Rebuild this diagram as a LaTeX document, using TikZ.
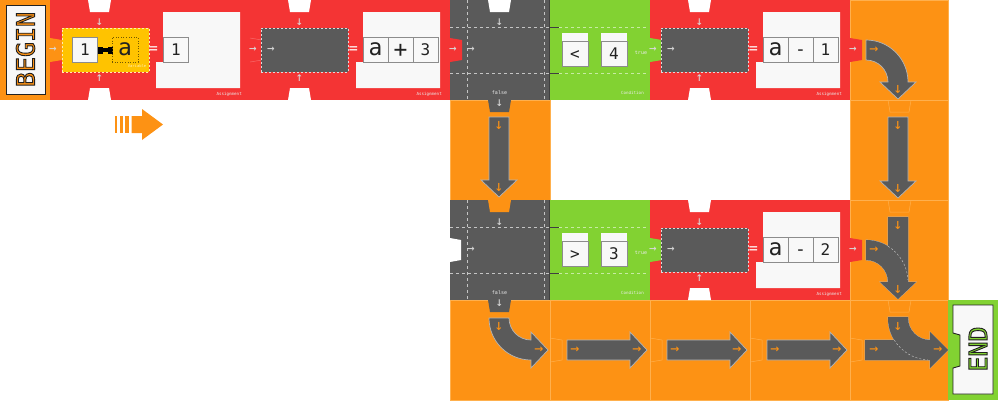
\documentclass[tikz,border=0pt]{standalone}
\usepackage{fontspec}
\setmainfont{DejaVu Sans Mono}
\definecolor{tred}{HTML}{F43434}
\definecolor{torange}{HTML}{FD9214}
\definecolor{tgreen}{HTML}{82D232}
\definecolor{tgray}{HTML}{5A5A5A}
\definecolor{tyellow}{HTML}{FFC300}
\definecolor{twhite}{HTML}{F8F8F8}
\definecolor{tline}{HTML}{FFB04D}
\definecolor{rline}{HTML}{F86B6B}
\definecolor{tdark}{HTML}{222222}
\newcommand{\outl}[1]{\special{pdf:literal direct 2 Tr 0.9 w 0.12 0.12 0.12 RG}#1\special{pdf:literal direct 0 Tr}}
\newcommand{\htabfill}[3]{\fill[#3] (#1,#2+38) -- (#1+12,#2+40) -- (#1+12,#2+60) -- (#1,#2+62) -- cycle;}
\newcommand{\htabline}[3]{\draw[#3,line width=0.5pt] (#1,#2+38) -- (#1+12,#2+40) -- (#1+12,#2+60) -- (#1,#2+62);}
\newcommand{\vtabfill}[3]{\fill[#3] (#1+38,#2) -- (#1+40,#2+12) -- (#1+59,#2+12) -- (#1+61,#2) -- cycle;}
\newcommand{\vtabline}[3]{\draw[#3,line width=0.5pt] (#1+38,#2) -- (#1+40,#2+12) -- (#1+59,#2+12) -- (#1+61,#2);}
\newcommand{\topnotch}[2]{\fill[white] (#1+38,#2) -- (#1+61,#2) -- (#1+59,#2+12) -- (#1+40,#2+12) -- cycle;}
\newcommand{\botnotch}[2]{\fill[white] (#1+38,#2+100) -- (#1+61,#2+100) -- (#1+59,#2+88) -- (#1+40,#2+88) -- cycle;}
% assignment tile frame: #1 prefix, #2 X, #3 Y
\newcommand{\asgframe}[3]{%
  \fill[twhite] (#2+113,#3+12) -- (#2+190,#3+12) -- (#2+190,#3+88) -- (#2+106,#3+88) -- (#2+106,#3+62) -- (#2+113,#3+62) -- cycle;
  \node[warr] (#1lt) at (#2+3,#3+50) {→};
  \node[warr] (#1dn) at (#2+49.5,#3+22) {↓};
  \node[warr] (#1up) at (#2+49.5,#3+78) {↑};
  \node[eqsign] (#1eq) at (#2+103.5,#3+50) {=};
  \node[tiny,anchor=east] (#1lbl) at (#2+192,#3+94.5) {Assignment};
}
% expression: #1 prefix #2 X #3 Y #4 #5 #6 cells, #7 style of middle cell
\newcommand{\asgexpr}[7]{%
  \node[inbox] (#1in) at (#2+54.5,#3+50) {};
  \node[warr] (#1inar) at (#2+21,#3+50) {→};
  \node[cell,bigc] (#1c1) at (#2+125.5,#3+49.5) {#4};
  \node[cell,#7] (#1c2) at (#2+150.5,#3+49.5) {#5};
  \node[cell] (#1c3) at (#2+175.5,#3+49.5) {#6};
}
% condition tile: #1 prefix #2 X #3 Y #4 op #5 value
\newcommand{\condtile}[5]{%
  \draw[dkline] (#2,#3+27) -- (#2+9,#3+27);
  \draw[dkline] (#2,#3+73) -- (#2+9,#3+73);
  \draw[gdash] (#2+9,#3+27) -- (#2+98,#3+27);
  \draw[gdash] (#2+9,#3+73) -- (#2+98,#3+73);
  \fill[twhite] (#2+12,#3+33) rectangle (#2+38,#3+41);
  \fill[twhite] (#2+51,#3+33) rectangle (#2+77,#3+41);
  \node[ccell] (#1op) at (#2+25,#3+53.5) {#4};
  \node[ccell] (#1val) at (#2+64,#3+53.5) {#5};
  \node[tiny,font=\fontsize{5}{5}\selectfont] (#1true) at (#2+91,#3+52.5) {true};
  \node[tiny,anchor=east] (#1lbl) at (#2+94,#3+92.5) {Condition};
}
% branch tile: #1 prefix #2 X #3 Y
\newcommand{\branchtile}[3]{%
  \draw[bdash] (#2+17,#3) -- (#2+17,#3+100);
  \draw[bdash] (#2+94,#3) -- (#2+94,#3+100);
  \draw[bdash] (#2,#3+27) -- (#2+99,#3+27);
  \draw[bdash] (#2,#3+73) -- (#2+99,#3+73);
  \draw[dkline] (#2+99.5,#3) -- (#2+99.5,#3+100);
  \node[warr] (#1dn) at (#2+49.5,#3+22) {↓};
  \node[warr] (#1rt) at (#2+21,#3+50) {→};
  \node[tiny,font=\fontsize{5}{5}\selectfont] (#1f) at (#2+49.5,#3+92.5) {false};
  \node[warr] (#1out) at (#2+49.5,#3+103.5) {↓};
}
\begin{document}
\begin{tikzpicture}[x=1pt,y=-1pt,
  tile/.style={inner sep=0pt,outer sep=0pt,anchor=north west,draw=none,minimum height=100pt},
  rtile/.style={tile,fill=tred,minimum width=200pt},
  gtile/.style={tile,fill=tgray,minimum width=100pt},
  ctile/.style={tile,fill=tgreen,minimum width=100pt},
  otile/.style={tile,fill=torange,draw=tline,line width=0.4pt,minimum width=100pt},
  warr/.style={inner sep=0pt,text=white!85!black,font=\fontsize{12.5}{12.5}\selectfont},
  oarr/.style={inner sep=0pt,text=torange,font=\fontsize{15}{15}\selectfont},
  tiny/.style={inner sep=0pt,text=white!92!black,font=\fontsize{4.2}{4.2}\selectfont},
  eqsign/.style={inner sep=0pt,text=white,font=\fontsize{15}{15}\selectfont},
  cell/.style={draw=black!45,fill=twhite,line width=0.6pt,minimum width=25pt,minimum height=25pt,inner sep=0pt,text=tdark,font=\fontsize{16}{16}\selectfont,text height=11.7pt,text depth=0pt},
  bigc/.style={font=\fontsize{23}{23}\selectfont,text height=12.5pt,text depth=0pt},
  plusc/.style={font=\fontsize{23}{23}\selectfont,text height=16pt,text depth=0pt},
  dashc/.style={font=\fontsize{18}{18}\selectfont,text height=11pt,text depth=0pt},
  ccell/.style={cell,minimum width=26pt},
  inbox/.style={fill=tgray,draw=white!78!tgray,dash pattern=on 2.4pt off 1.6pt,line width=0.7pt,minimum width=87pt,minimum height=44pt,inner sep=0pt},
  garrow/.style={fill=tgray,draw=white!55!tgray,line width=0.7pt},
  gfill/.style={fill=tgray},
  bdash/.style={draw=white!65!tgray,dash pattern=on 3pt off 3pt,line width=0.6pt},
  gdash/.style={draw=white!55!tgreen,dash pattern=on 3pt off 3pt,line width=0.6pt},
  dkline/.style={draw=black!75,line width=0.6pt},
  dashline/.style={draw=white!60!tgray,dash pattern=on 2pt off 2pt,line width=0.5pt}]
\useasboundingbox (0,0) rectangle (998,400);
% ---------- tiles ----------
\node[tile,fill=torange,minimum width=50pt] (begin) at (0,0) {};
\node[rtile] (as1) at (50,0) {};
\node[rtile] (as2) at (250,0) {};
\node[gtile] (br1) at (450,0) {};
\node[ctile] (cd1) at (550,0) {};
\node[rtile] (as3) at (650,0) {};
\node[otile,minimum width=98pt] (cv1) at (850,0) {};
\node[otile] (st1) at (450,100) {};
\node[otile,minimum width=98pt] (st2) at (850,100) {};
\node[gtile] (br2) at (450,200) {};
\node[ctile] (cd2) at (550,200) {};
\node[rtile] (as4) at (650,200) {};
\node[otile,minimum width=98pt] (mg1) at (850,200) {};
\node[otile] (cv2) at (450,300) {};
\node[otile] (sr1) at (550,300) {};
\node[otile] (sr2) at (650,300) {};
\node[otile] (sr3) at (750,300) {};
\node[otile,minimum width=98pt] (mg2) at (850,300) {};
\node[tile,fill=tgreen,minimum width=50pt] (end) at (948,300) {};
% ---------- tabs and notches ----------
\htabfill{50}{0}{torange}
\htabline{250}{0}{rline}
\htabfill{450}{0}{tred}
\htabfill{650}{0}{tgreen}
\htabfill{850}{0}{tred}
\vtabfill{450}{100}{tgray}
\vtabline{850}{100}{tline}
\vtabfill{450}{200}{torange}
\fill[white] (450,238) -- (461,240) -- (461,260) -- (450,262) -- cycle;
\htabfill{650}{200}{tgreen}
\htabfill{850}{200}{tred}
\vtabline{850}{200}{tline}
\vtabfill{450}{300}{tgray}
\vtabline{850}{300}{tline}
\htabline{550}{300}{tline}
\htabline{650}{300}{tline}
\htabline{750}{300}{tline}
\htabline{850}{300}{tline}
\topnotch{50}{0}\botnotch{50}{0}
\topnotch{250}{0}\botnotch{250}{0}
\topnotch{450}{0}
\topnotch{650}{0}\botnotch{650}{0}
\topnotch{650}{200}\botnotch{650}{200}
% ---------- assignment tiles ----------
\asgframe{aa}{50}{0}
\node[inbox,fill=tyellow,draw=white!70!tyellow] (aain) at (105.5,50) {};
\node[cell] (aaone) at (85,49.5) {1};
\fill[black] (97.5,46.5) rectangle (102.5,53.5);
\fill[black] (107.5,46.5) rectangle (112.5,53.5);
\fill[black] (102,48) rectangle (108,52);
\node[draw=black!55!tyellow,dotted,line width=0.6pt,minimum width=26pt,minimum height=25pt,inner sep=0pt,text=tdark,font=\fontsize{23}{23}\selectfont,text height=12.5pt,text depth=0pt] (aavar) at (125,49.5) {a};
\node[tiny,text=white!70!tyellow,font=\fontsize{3.8}{3.8}\selectfont] (aavlbl) at (137,66.5) {Variable};
\node[cell] (aares) at (176,49.5) {1};
\asgframe{ab}{250}{0}
\asgexpr{ab}{250}{0}{a}{+}{3}{plusc}
\asgframe{ac}{650}{0}
\asgexpr{ac}{650}{0}{a}{-}{1}{dashc}
\asgframe{ad}{650}{200}
\asgexpr{ad}{650}{200}{a}{-}{2}{dashc}
\node[warr] (abrt) at (453,50) {→};
\node[warr] (acrt) at (853,50) {→};
\node[warr] (adrt) at (853,250) {→};
% ---------- branches and conditions ----------
\branchtile{ba}{450}{0}
\branchtile{bb}{450}{200}
\condtile{ca}{550}{0}{<}{4}
\condtile{cb}{550}{200}{>}{3}
% ---------- track arrows ----------
% straight down
\draw[garrow] (489,117) -- (509,117) -- (509,180) -- (517,180) -- (499,197) -- (481,180) -- (489,180) -- cycle;
\draw[garrow] (888,117) -- (908,117) -- (908,181) -- (916,181) -- (898,198) -- (880,181) -- (888,181) -- cycle;
% straight right
\draw[garrow] (567,340) -- (630,340) -- (630,332) -- (647,350) -- (630,368) -- (630,360) -- (567,360) -- cycle;
\draw[garrow] (667,340) -- (730,340) -- (730,332) -- (747,350) -- (730,368) -- (730,360) -- (667,360) -- cycle;
\draw[garrow] (767,340) -- (830,340) -- (830,332) -- (847,350) -- (830,368) -- (830,360) -- (767,360) -- cycle;
% curve right->down
\draw[garrow] (866,40) arc[start angle=-90,end angle=0,radius=42] -- (916,82) -- (898,99) -- (880,82) -- (888,82) arc[start angle=0,end angle=-90,radius=22] -- cycle;
% curve down->right
\draw[garrow] (489,318) arc[start angle=180,end angle=90,radius=42] -- (531,368) -- (548,350) -- (531,332) -- (531,340) arc[start angle=90,end angle=180,radius=22] -- cycle;
% merge 1
\draw[garrow] (866,240) arc[start angle=-90,end angle=0,radius=42] -- (888,282) arc[start angle=0,end angle=-90,radius=22] -- cycle;
\draw[garrow] (888,217) -- (908,217) -- (908,282) -- (916,282) -- (898,299) -- (880,282) -- (888,282) -- cycle;
\fill[gfill] (866,240) arc[start angle=-90,end angle=0,radius=42] -- (888,282) arc[start angle=0,end angle=-90,radius=22] -- cycle;
\fill[gfill] (888,217) -- (908,217) -- (908,282) -- (916,282) -- (898,299) -- (880,282) -- (888,282) -- cycle;
\draw[dashline] (888,246.2) arc[start angle=-58.4,end angle=-3,radius=42];
% merge 2
\draw[garrow] (888,317) -- (888,318) arc[start angle=180,end angle=90,radius=42] -- (930,340) arc[start angle=90,end angle=180,radius=22] -- (908,317) -- cycle;
\draw[garrow] (865,340) -- (930,340) -- (930,332) -- (948,350) -- (930,368) -- (930,360) -- (865,360) -- cycle;
\fill[gfill] (888,317) -- (888,318) arc[start angle=180,end angle=90,radius=42] -- (930,340) arc[start angle=90,end angle=180,radius=22] -- (908,317) -- cycle;
\fill[gfill] (865,340) -- (930,340) -- (930,332) -- (948,350) -- (930,368) -- (930,360) -- (865,360) -- cycle;
\draw[dashline] (894.2,340) arc[start angle=148.4,end angle=93,radius=42];
% ---------- orange direction marks ----------
\node[oarr] (o1) at (874,50) {→};
\node[oarr] (o2) at (898,89) {↓};
\node[oarr] (o3) at (499,125) {↓};
\node[oarr] (o4) at (499,187) {↓};
\node[oarr] (o5) at (898,125) {↓};
\node[oarr] (o6) at (898,188) {↓};
\node[oarr] (o7) at (898,225) {↓};
\node[oarr] (o8) at (874,250) {→};
\node[oarr] (o9) at (898,289) {↓};
\node[oarr] (o10) at (499,326) {↓};
\node[oarr] (o11) at (539,350) {→};
\node[oarr] (o12) at (575,350) {→};
\node[oarr] (o13) at (637,350) {→};
\node[oarr] (o14) at (675,350) {→};
\node[oarr] (o15) at (737,350) {→};
\node[oarr] (o16) at (775,350) {→};
\node[oarr] (o17) at (837,350) {→};
\node[oarr] (o18) at (898,326) {↓};
\node[oarr] (o19) at (874,350) {→};
\node[oarr] (o20) at (938,350) {→};
% ---------- striped arrow ----------
\fill[torange] (115,116) rectangle (117,133);
\fill[torange] (119.5,116) rectangle (122.5,133);
\fill[torange] (125,116) rectangle (129,133);
\fill[torange] (131.5,116) -- (142,116) -- (142,109) -- (163,124.5) -- (142,140) -- (142,133) -- (131.5,133) -- cycle;
% ---------- END box ----------
\draw[fill=twhite,draw=tdark,line width=0.9pt] (953,305) -- (993,305) -- (993,394) -- (953,394) -- (953,368) -- (960,366) -- (960,335) -- (953,333) -- cycle;
% ---------- BEGIN / END labels ----------
\node[draw=tdark,fill=twhite,line width=0.9pt,minimum width=89pt,minimum height=39pt,inner sep=0pt,rotate=90,font=\fontsize{25}{25}\selectfont,text=torange] (begintext) at (25.5,49.5) {\outl{BEGIN}};
\node[inner sep=0pt,rotate=90,font=\fontsize{25}{25}\selectfont,text=tgreen] (endtext) at (978,349) {\outl{END}};
\end{tikzpicture}
\end{document}
